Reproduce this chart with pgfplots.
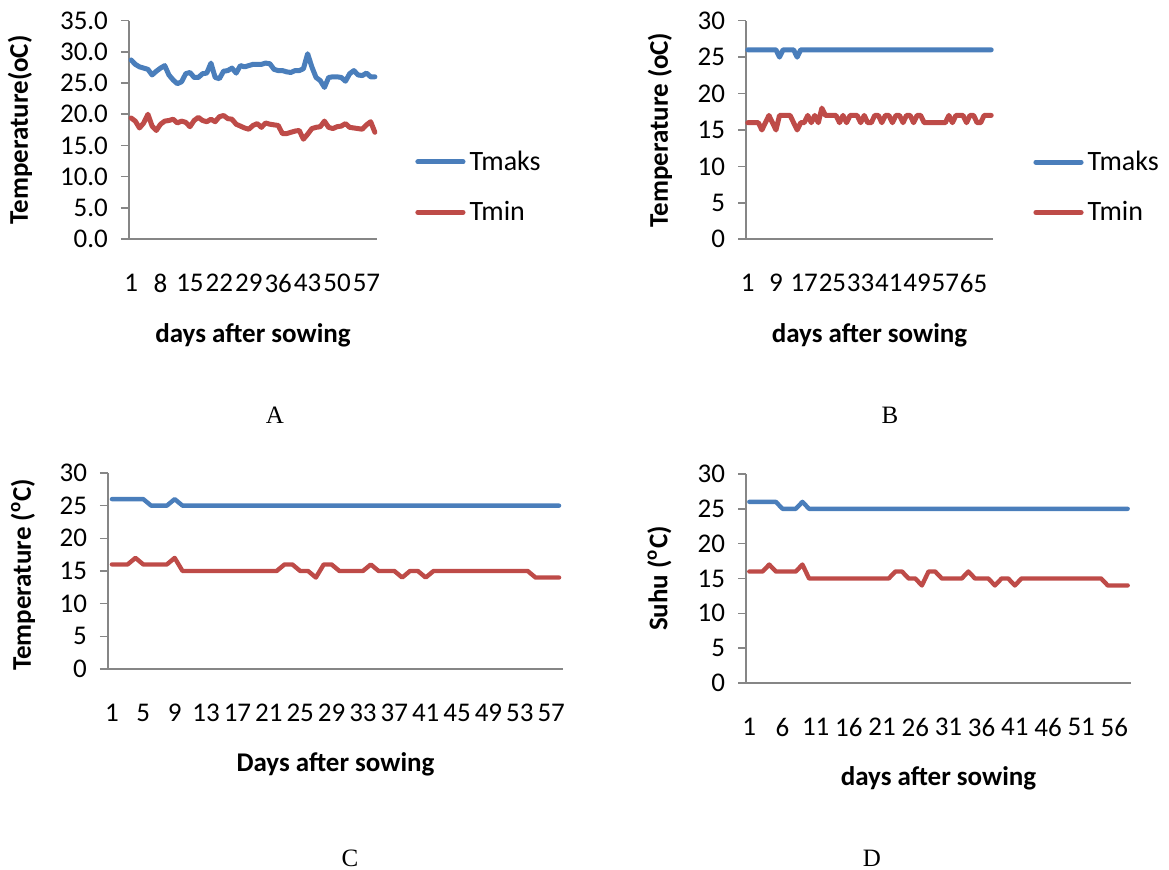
\documentclass[border=0pt]{standalone}
\usepackage{fontspec}
\setmainfont{Carlito}
\newfontfamily\timesfont{Liberation Serif}
\usepackage{pgfplots}
\pgfplotsset{compat=1.18}
\definecolor{tmax}{RGB}{74,126,187}
\definecolor{tmin}{RGB}{190,75,72}
\definecolor{axgrey}{RGB}{134,134,134}
\pgfplotsset{
  panel/.style={
    scale only axis,
    axis lines=left,
    axis line style={-, draw=axgrey, line width=0.8pt},
    ymin=0,
    tick align=outside,
    ytick style={draw=axgrey, line width=0.8pt},
    major tick length=4pt,
    xtick style={draw=none},
    tick label style={font=\fontsize{13.5}{15}\selectfont},
    label style={font=\bfseries\fontsize{13.5}{15}\selectfont},
    /pgf/number format/assume math mode=true,
    xticklabel style={yshift=-10pt},
    yticklabel style={xshift=-3pt},
    clip=false,
  },
  tmaxl/.style={draw=tmax, line width=2.5pt, no markers, line join=round, line cap=round},
  tminl/.style={draw=tmin, line width=2.5pt, no markers, line join=round, line cap=round},
  leg/.style={
    legend style={draw=none, fill=none, anchor=west, inner sep=0pt,
      font=\fontsize{14}{16}\selectfont, row sep=10pt, cells={anchor=west}},
    legend image code/.code={\draw[##1, line cap=round] (1.2pt,0pt) -- (23.8pt,0pt);},
  },
}
\begin{document}
\begin{tikzpicture}
\path[use as bounding box] (0,0) rectangle (584.5pt,435pt);

% ---------------- A ----------------
\begin{axis}[panel, leg,
  at={(64.5pt,315.5pt)}, anchor=south west,
  width=124pt, height=109.15pt,
  xmin=0.5, xmax=59.5, ymax=35,
  ytick={0,5,...,35},
  yticklabel style={/pgf/number format/.cd, fixed, fixed zerofill, precision=1},
  xtick={1,8,15,22,29,36,43,50,57},
  ylabel={Temperature(oC)}, xlabel={days after sowing},
  ylabel style={at={(axis description cs:-0.4395,0.5)}, anchor=center},
  xlabel style={at={(axis description cs:0.5,-0.44)}, anchor=center},
  legend style={at={(axis description cs:1.153,0.238)}},
]
\addplot[tmaxl] coordinates {(1,28.7)(2,28.0)(3,27.6)(4,27.4)(5,27.2)(6,26.3)(7,26.9)(8,27.4)(9,27.8)(10,26.3)
(11,25.5)(12,24.9)(13,25.2)(14,26.5)(15,26.7)(16,25.9)(17,25.9)(18,26.5)(19,26.6)(20,28.2)
(21,25.9)(22,25.7)(23,26.9)(24,27.0)(25,27.4)(26,26.6)(27,27.8)(28,27.6)(29,27.8)(30,28.0)
(31,28.0)(32,28.0)(33,28.2)(34,28.1)(35,27.2)(36,27.0)(37,27.0)(38,26.8)(39,26.7)(40,27.0)
(41,27.0)(42,27.3)(43,29.7)(44,27.6)(45,25.9)(46,25.4)(47,24.3)(48,25.9)(49,26.0)(50,26.0)
(51,25.9)(52,25.3)(53,26.5)(54,27.0)(55,26.3)(56,26.2)(57,26.6)(58,26.0)(59,26.0)};
\addlegendentry{Tmaks}
\addplot[tminl] coordinates {(1,19.4)(2,18.9)(3,17.8)(4,18.6)(5,20.0)(6,18.1)(7,17.4)(8,18.4)(9,18.9)(10,19.0)
(11,19.2)(12,18.6)(13,18.9)(14,18.7)(15,18.0)(16,19.0)(17,19.5)(18,19.0)(19,18.8)(20,19.2)
(21,18.8)(22,19.6)(23,19.8)(24,19.3)(25,19.2)(26,18.4)(27,18.1)(28,17.8)(29,17.6)(30,18.2)
(31,18.5)(32,17.9)(33,18.6)(34,18.4)(35,18.3)(36,18.2)(37,16.9)(38,16.9)(39,17.1)(40,17.3)
(41,17.4)(42,16.0)(43,16.8)(44,17.7)(45,17.9)(46,18.0)(47,18.9)(48,17.9)(49,17.7)(50,18.0)
(51,18.1)(52,18.5)(53,17.9)(54,17.8)(55,17.7)(56,17.6)(57,18.3)(58,18.8)(59,17.1)};
\addlegendentry{Tmin}
\end{axis}

% ---------------- B ----------------
\begin{axis}[panel, leg,
  at={(373pt,315.35pt)}, anchor=south west,
  width=123.5pt, height=109.3pt,
  xmin=0.5, xmax=70.5, ymax=30,
  ytick={0,5,...,30},
  xtick={1,9,17,25,33,41,49,57,65},
  ylabel={Temperature (oC)}, xlabel={days after sowing},
  ylabel style={at={(axis description cs:-0.348,0.5)}, anchor=center},
  xlabel style={at={(axis description cs:0.5,-0.438)}, anchor=center},
  legend style={at={(axis description cs:1.162,0.238)}},
]
\addplot[tmaxl] coordinates {(1,26)(2,26)(3,26)(4,26)(5,26)(6,26)(7,26)(8,26)(9,26)(10,25)
(11,26)(12,26)(13,26)(14,26)(15,25)(16,26)(17,26)(18,26)(19,26)(20,26)
(30,26)(40,26)(50,26)(60,26)(70,26)};
\addlegendentry{Tmaks}
\addplot[tminl] coordinates {(1,16)(2,16)(3,16)(4,16)(5,15)(6,16)(7,17)(8,16)(9,15)(10,17)
(11,17)(12,17)(13,17)(14,16)(15,15)(16,16)(17,16)(18,17)(19,16)(20,17)
(21,16)(22,18)(23,17)(24,17)(25,17)(26,17)(27,16)(28,17)(29,16)(30,17)
(31,17)(32,17)(33,16)(34,17)(35,16)(36,16)(37,17)(38,17)(39,16)(40,17)
(41,17)(42,16)(43,17)(44,17)(45,16)(46,17)(47,17)(48,16)(49,17)(50,17)
(51,16)(52,16)(53,16)(54,16)(55,16)(56,16)(57,16)(58,17)(59,16)(60,17)
(61,17)(62,17)(63,16)(64,17)(65,17)(66,16)(67,16)(68,17)(69,17)(70,17)};
\addlegendentry{Tmin}
\end{axis}

% ---------------- C ----------------
\begin{axis}[panel,
  at={(54pt,100.5pt)}, anchor=south west,
  width=227.5pt, height=98pt,
  xmin=0.5, xmax=58.5, ymax=30,
  ytick={0,5,...,30},
  xtick={1,5,...,57},
  ylabel={Temperature (\textsuperscript{o}C)}, xlabel={Days after sowing},
  ylabel style={at={(axis description cs:-0.187,0.48)}, anchor=center},
  xlabel style={at={(axis description cs:0.5,-0.485)}, anchor=center},
]
\addplot[tmaxl, line width=2.2pt] coordinates {(1,26)(2,26)(3,26)(4,26)(5,26)(6,25)(7,25)(8,25)(9,26)(10,25)
(20,25)(30,25)(40,25)(50,25)(58,25)};
\addplot[tminl, line width=2.2pt] coordinates {(1,16)(2,16)(3,16)(4,17)(5,16)(6,16)(7,16)(8,16)(9,17)(10,15)
(11,15)(12,15)(13,15)(14,15)(15,15)(16,15)(17,15)(18,15)(19,15)(20,15)
(21,15)(22,15)(23,16)(24,16)(25,15)(26,15)(27,14)(28,16)(29,16)(30,15)
(31,15)(32,15)(33,15)(34,16)(35,15)(36,15)(37,15)(38,14)(39,15)(40,15)
(41,14)(42,15)(43,15)(44,15)(45,15)(46,15)(47,15)(48,15)(49,15)(50,15)
(51,15)(52,15)(53,15)(54,15)(55,14)(56,14)(57,14)(58,14)};
\end{axis}

% ---------------- D ----------------
\begin{axis}[panel,
  at={(373pt,93.5pt)}, anchor=south west,
  width=192.5pt, height=104.5pt,
  xmin=0.5, xmax=58.5, ymax=30,
  ytick={0,5,...,30},
  xtick={1,6,...,56},
  ylabel={Suhu (\textsuperscript{o}C)}, xlabel={days after sowing},
  ylabel style={at={(axis description cs:-0.225,0.5)}, anchor=center},
  xlabel style={at={(axis description cs:0.5,-0.455)}, anchor=center},
]
\addplot[tmaxl, line width=2.2pt] coordinates {(1,26)(2,26)(3,26)(4,26)(5,26)(6,25)(7,25)(8,25)(9,26)(10,25)
(20,25)(30,25)(40,25)(50,25)(58,25)};
\addplot[tminl, line width=2.2pt] coordinates {(1,16)(2,16)(3,16)(4,17)(5,16)(6,16)(7,16)(8,16)(9,17)(10,15)
(11,15)(12,15)(13,15)(14,15)(15,15)(16,15)(17,15)(18,15)(19,15)(20,15)
(21,15)(22,15)(23,16)(24,16)(25,15)(26,15)(27,14)(28,16)(29,16)(30,15)
(31,15)(32,15)(33,15)(34,16)(35,15)(36,15)(37,15)(38,14)(39,15)(40,15)
(41,14)(42,15)(43,15)(44,15)(45,15)(46,15)(47,15)(48,15)(49,15)(50,15)
(51,15)(52,15)(53,15)(54,15)(55,14)(56,14)(57,14)(58,14)};
\end{axis}

\node[font=\timesfont\fontsize{12.5}{14}\selectfont] at (137.5pt,227.5pt) {A};
\node[font=\timesfont\fontsize{12.5}{14}\selectfont] at (445pt,227.5pt) {B};
\node[font=\timesfont\fontsize{12.5}{14}\selectfont] at (175pt,6pt) {C};
\node[font=\timesfont\fontsize{12.5}{14}\selectfont] at (436pt,6pt) {D};
\end{tikzpicture}
\end{document}
